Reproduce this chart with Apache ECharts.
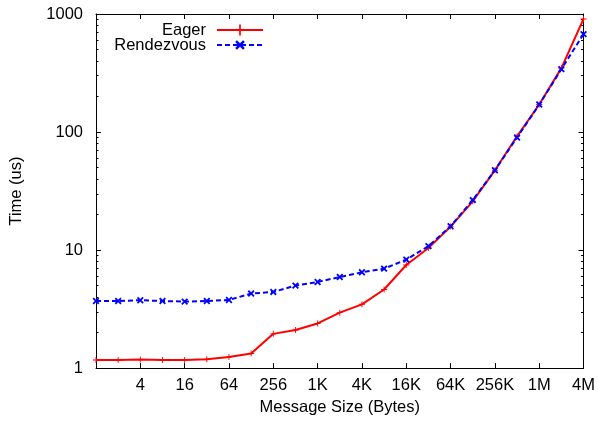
<!DOCTYPE html>
<html>
<head>
<meta charset="utf-8">
<script src="https://cdn.jsdelivr.net/npm/echarts@6/dist/echarts.min.js"></script>
<style>
  html, body { margin: 0; padding: 0; background: #fff; }
  #chart { width: 598px; height: 421px; }
</style>
</head>
<body>
<div id="chart"></div>
<script>
// message sizes in bytes
const sizes = [1, 2, 4, 8, 16, 32, 64, 128, 256, 512, 1024, 2048, 4096, 8192,
  16384, 32768, 65536, 131072, 262144, 524288, 1048576, 2097152, 4194304];

// time in us
const eager = [1.17, 1.17, 1.18, 1.17, 1.17, 1.19, 1.24, 1.33, 1.95, 2.10, 2.39, 2.95,
  3.47, 4.63, 7.47, 10.4, 15.8, 25.9, 47.4, 92, 171, 348, 908];
const rendezvous = [3.70, 3.70, 3.76, 3.70, 3.66, 3.70, 3.78, 4.28, 4.42, 5.00, 5.37, 5.91,
  6.48, 6.96, 8.30, 10.8, 15.9, 26.5, 47.4, 90, 171, 341, 675];

const xTicks = [4, 16, 64, 256, 1024, 4096, 16384, 65536, 262144, 1048576, 4194304];
const yMajor = [1, 10, 100, 1000];
const yMinor = [2, 3, 4, 5, 6, 7, 8, 9, 20, 30, 40, 50, 60, 70, 80, 90,
  200, 300, 400, 500, 600, 700, 800, 900];

const chart = echarts.init(document.getElementById('chart'));

const font = 'Liberation Sans, Arial, Helvetica, sans-serif';
const fs = 16.5;
const plus = 'path://M-0.6,-4H0.6V-0.6H4V0.6H0.6V4H-0.6V0.6H-4V-0.6H-0.6Z';
const cross = 'path://M-0.9,-4H0.9V-0.9H4V0.9H0.9V4H-0.9V0.9H-4V-0.9H-0.9Z';

function sizeLabel(v) {
  if (v >= 1048576) return (v / 1048576) + 'M';
  if (v >= 1024) return (v / 1024) + 'K';
  return String(v);
}

function xAxis(pos, showLabels) {
  return {
    type: 'log', logBase: 2, min: 1, max: 4194304, position: pos,
    name: showLabels ? 'Message Size (Bytes)' : '',
    nameLocation: 'middle', nameGap: 29,
    nameTextStyle: { fontFamily: font, fontSize: fs, color: '#000' },
    axisLine: { show: true, lineStyle: { color: '#000', width: 1 } },
    axisTick: { show: true, inside: true, length: 5, customValues: xTicks,
      lineStyle: { color: '#000' } },
    axisLabel: { show: showLabels, customValues: xTicks, margin: 9,
      fontFamily: font, fontSize: fs, color: '#000', formatter: sizeLabel },
    splitLine: { show: false }, minorTick: { show: false }
  };
}

function yAxis(pos, major) {
  const first = pos === 'left' && major;
  return {
    type: 'log', logBase: 10, min: 1, max: 1000, position: pos,
    name: first ? 'Time (us)' : '',
    nameLocation: 'middle', nameGap: 71, nameRotate: 90,
    nameTextStyle: { fontFamily: font, fontSize: fs, color: '#000' },
    axisLine: { show: major, lineStyle: { color: '#000', width: 1 } },
    axisTick: { show: true, inside: true, length: major ? 5 : 2.5,
      customValues: major ? yMajor : yMinor, lineStyle: { color: '#000' } },
    axisLabel: { show: first, customValues: yMajor, margin: 13,
      fontFamily: font, fontSize: fs, color: '#000', formatter: v => String(v) },
    splitLine: { show: false }, minorTick: { show: false }
  };
}

const legendText = { fontFamily: font, fontSize: fs, color: '#000', padding: [0, 6, 0, 0] };

const option = {
  animation: false,
  backgroundColor: '#fff',
  grid: { left: 96, right: 12, top: 14, bottom: 52 },
  legend: [
    {
      data: ['Eager'], orient: 'vertical', align: 'right', right: 334, top: 21.5,
      padding: 0, itemWidth: 46, itemHeight: 14, textStyle: legendText
    },
    {
      data: ['Rendezvous'], orient: 'vertical', align: 'right', right: 334, top: 36.5,
      padding: 0, itemWidth: 46, itemHeight: 14, textStyle: legendText
    }
  ],
  xAxis: [xAxis('bottom', true), xAxis('top', false)],
  yAxis: [yAxis('left', true), yAxis('left', false), yAxis('right', true), yAxis('right', false)],
  series: [
    {
      name: 'Eager', type: 'line', xAxisIndex: 0, yAxisIndex: 0,
      data: sizes.map((s, i) => [s, eager[i]]),
      symbol: plus, symbolSize: 6,
      itemStyle: { color: '#ff0000' },
      lineStyle: { color: '#ff0000', width: 2 }
    },
    {
      name: 'Rendezvous', type: 'line', xAxisIndex: 0, yAxisIndex: 0,
      data: sizes.map((s, i) => [s, rendezvous[i]]),
      symbol: cross, symbolSize: 8, symbolRotate: 45,
      itemStyle: { color: '#0000ff' },
      lineStyle: { color: '#0000ff', width: 2, type: [5, 3] }
    }
  ]
};

chart.setOption(option);
</script>
</body>
</html>
